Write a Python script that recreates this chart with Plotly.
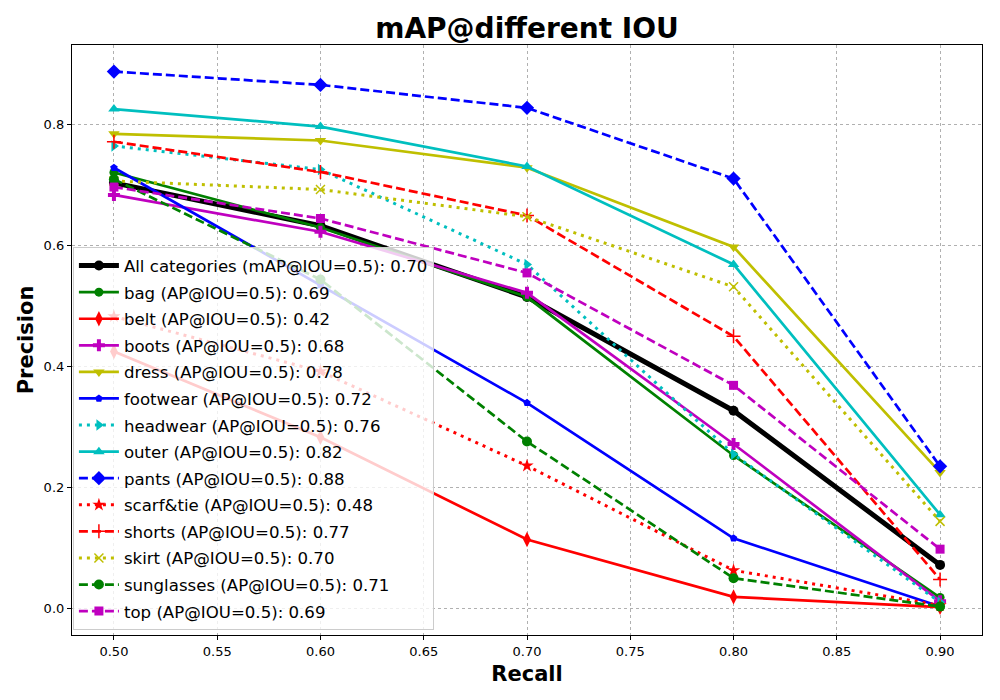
import plotly.graph_objects as go

recall = [0.5, 0.6, 0.7, 0.8, 0.9]

names = ["All categories (mAP@IOU=0.5): 0.70", "bag (AP@IOU=0.5): 0.69", "belt (AP@IOU=0.5): 0.42",
         "boots (AP@IOU=0.5): 0.68", "dress (AP@IOU=0.5): 0.78", "footwear (AP@IOU=0.5): 0.72",
         "headwear (AP@IOU=0.5): 0.76", "outer (AP@IOU=0.5): 0.82", "pants (AP@IOU=0.5): 0.88",
         "scarf&tie (AP@IOU=0.5): 0.48", "shorts (AP@IOU=0.5): 0.77", "skirt (AP@IOU=0.5): 0.70",
         "sunglasses (AP@IOU=0.5): 0.71", "top (AP@IOU=0.5): 0.69"]

all_cat = [0.704, 0.633, 0.515, 0.327, 0.072]
bag = [0.721, 0.630, 0.515, 0.253, 0.018]
belt = [0.425, 0.283, 0.114, 0.019, 0.002]
boots = [0.684, 0.623, 0.522, 0.272, 0.012]
dress = [0.785, 0.774, 0.729, 0.598, 0.225]
footwear = [0.729, 0.535, 0.340, 0.116, 0.003]
headwear = [0.765, 0.726, 0.569, 0.255, 0.010]
outer = [0.826, 0.797, 0.731, 0.569, 0.155]
pants = [0.888, 0.866, 0.828, 0.711, 0.235]
scarf = [0.483, 0.392, 0.236, 0.063, 0.005]
shorts = [0.772, 0.722, 0.650, 0.450, 0.048]
skirt = [0.707, 0.693, 0.648, 0.532, 0.144]
sunglasses = [0.710, 0.544, 0.276, 0.050, 0.003]
top = [0.697, 0.645, 0.555, 0.369, 0.098]

series = [all_cat, bag, belt, boots, dress, footwear, headwear, outer, pants,
          scarf, shorts, skirt, sunglasses, top]

G, R, M, Y, B, C, K = "#008000", "#ff0000", "#bf00bf", "#bfbf00", "#0000ff", "#00bfbf", "#000000"
DASH = "9px,4px"
DOT = "3px,5px"
styles = [
    (K, "solid", "circle", 10, 5),
    (G, "solid", "circle", 9, 2.7),
    (R, "solid", "diamond-tall", 11, 2.7),
    (M, "solid", "cross", 10, 2.7),
    (Y, "solid", "triangle-down", 10, 2.7),
    (B, "solid", "pentagon", 8, 2.7),
    (C, "dot", "triangle-right", 10, 3),
    (C, "solid", "triangle-up", 10, 2.7),
    (B, "dash", "diamond", 11, 2.7),
    (R, "dot", "star", 10, 3),
    (R, "dash", "cross-thin", 10, 2.7),
    (Y, "dot", "x-thin", 9, 3),
    (G, "dash", "circle", 10, 2.7),
    (M, "dash", "square", 9, 2.7),
]

fig = go.Figure()
for i, (nm, vals, st) in enumerate(zip(names, series, styles)):
    col, dash, sym, sz, lw = st
    dash = {"dash": DASH, "dot": DOT}.get(dash, dash)
    mk = dict(symbol=sym, size=sz, color=col)
    if sym.endswith("-thin"):
        mk["line"] = dict(color=col, width=1.5)
    fig.add_trace(go.Scatter(
        x=recall, y=vals, name=nm, mode="lines+markers",
        line=dict(color=col, width=lw, dash=dash), marker=mk,
        legendgroup="g%d" % i,
    ))

axis_common = dict(
    showline=True, linecolor="black", linewidth=1.2, mirror=True,
    ticks="outside", ticklen=4, tickcolor="black", automargin=False,
    showgrid=True, gridcolor="#b0b0b0", griddash="3px,3px", gridwidth=1,
    zeroline=False, tickfont=dict(size=13, color="black", family="DejaVu Sans"),
)

fig.update_layout(
    width=1000, height=700,
    paper_bgcolor="white", plot_bgcolor="white",
    margin=dict(l=64, r=26, t=37, b=73),
    font=dict(family="DejaVu Sans", color="black"),
    title=dict(text="<b>mAP@different IOU</b>", x=0.519, xanchor="center", y=0.971, yanchor="middle",
               font=dict(size=28, family="DejaVu Sans", color="black")),
    xaxis=dict(range=[0.4797, 0.9203], tickvals=[0.5, 0.55, 0.6, 0.65, 0.7, 0.75, 0.8, 0.85, 0.9],
               ticktext=["0.50", "0.55", "0.60", "0.65", "0.70", "0.75", "0.80", "0.85", "0.90"],
               title=dict(text="<b>Recall</b>", font=dict(size=21), standoff=8), **axis_common),
    yaxis=dict(range=[-0.044, 0.932], tickvals=[0.0, 0.2, 0.4, 0.6, 0.8],
               ticktext=["0.0", "0.2", "0.4", "0.6", "0.8"],
               title=dict(text="<b>Precision</b>", font=dict(size=21), standoff=4), **axis_common),
    legend=dict(x=0.001, y=0.008, xanchor="left", yanchor="bottom",
                bgcolor="rgba(255,255,255,0.8)", bordercolor="#cccccc", borderwidth=1,
                font=dict(size=16.6, family="DejaVu Sans", color="black"),
                tracegroupgap=2, itemwidth=40),
)

fig.write_html("out.html")
